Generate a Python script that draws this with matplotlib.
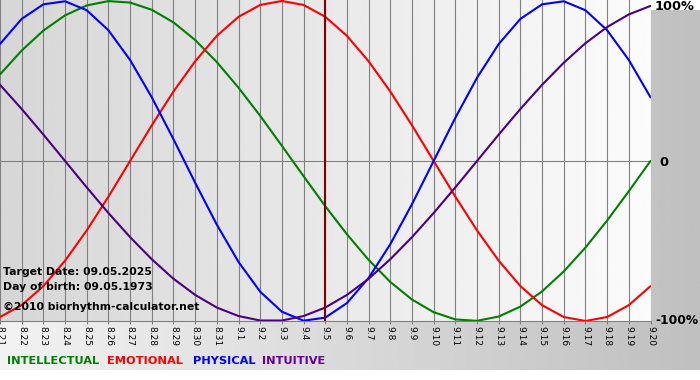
import numpy as np
import matplotlib
matplotlib.use("Agg")
import matplotlib.pyplot as plt

# ---- data ----
dates = ["8.21", "8.22", "8.23", "8.24", "8.25", "8.26", "8.27", "8.28", "8.29", "8.30", "8.31",
         "9.1", "9.2", "9.3", "9.4", "9.5", "9.6", "9.7", "9.8", "9.9", "9.10",
         "9.11", "9.12", "9.13", "9.14", "9.15", "9.16", "9.17", "9.18", "9.19", "9.20"]

physical = [0.731, 0.888, 0.979, 0.998, 0.942, 0.817, 0.631, 0.398, 0.136, -0.136,
            -0.398, -0.631, -0.817, -0.942, -0.998, -0.979, -0.888, -0.731, -0.520, -0.270,
            0.000, 0.270, 0.520, 0.731, 0.888, 0.979, 0.998, 0.942, 0.817, 0.631, 0.398]

emotional = [-0.975, -0.901, -0.782, -0.623, -0.434, -0.223, 0.000, 0.223, 0.434, 0.623,
             0.782, 0.901, 0.975, 1.000, 0.975, 0.901, 0.782, 0.623, 0.434, 0.223,
             0.000, -0.223, -0.434, -0.623, -0.782, -0.901, -0.975, -1.000, -0.975, -0.901, -0.782]

intellectual = [0.541, 0.690, 0.815, 0.910, 0.972, 0.999, 0.990, 0.945, 0.866, 0.756,
                0.618, 0.458, 0.282, 0.095, -0.095, -0.282, -0.458, -0.618, -0.756, -0.866,
                -0.945, -0.990, -0.999, -0.972, -0.910, -0.815, -0.690, -0.541, -0.372, -0.189, 0.000]

intuitive = [0.476, 0.325, 0.165, 0.000, -0.165, -0.325, -0.476, -0.614, -0.736, -0.837,
             -0.916, -0.969, -0.997, -0.997, -0.969, -0.916, -0.837, -0.736, -0.614, -0.476,
             -0.325, -0.165, 0.000, 0.165, 0.325, 0.476, 0.614, 0.736, 0.837, 0.916, 0.969]

target_index = 15  # 9.5
y_labels = ["100%", "0", "-100%"]
legend_names = ["INTELLECTUAL", "EMOTIONAL", "PHYSICAL", "INTUITIVE"]
info_lines = ["Target Date: 09.05.2025", "Day of birth: 09.05.1973", "\u00a92010 biorhythm-calculator.net"]

# ---- styling ----
C_INT = "#008000"
C_EMO = "#ff0000"
C_PHY = "#0000ff"
C_ITU = "#4b0082"
C_LEG = ["#008000", "#ff0000", "#0000ff", "#660099"]

W, H = 700, 380
fig = plt.figure(figsize=(7, 3.8), dpi=100, facecolor="white")

def fx(px):
    return px / W

def fy(py):
    return 1 - py / H

# background panel gradient (light left -> gray right)
bg = fig.add_axes([0, 10 / H, 1, 360 / H])
bg.set_axis_off()
grad = np.linspace(0.95, 0.75, 256).reshape(1, -1)
bg.imshow(grad, cmap="gray", vmin=0, vmax=1, aspect="auto", extent=[0, 1, 0, 1])
bg.set_xlim(0, 1)
bg.set_ylim(0, 1)

# main plot area
ax = fig.add_axes([0, (H - 321) / H, 650.5 / W, 321 / H])
x = np.arange(len(dates))
ax.set_xlim(0, len(dates) - 1)
ax.set_ylim(-1.0, 1.006)
pg = np.linspace(0.84, 0.985, 256).reshape(1, -1)
ax.imshow(pg, cmap="gray", vmin=0, vmax=1, aspect="auto",
          extent=[0, 1, 0, 1], transform=ax.transAxes, zorder=0)

for xi in x:
    ax.axvline(xi, color="#808080", lw=0.8, zorder=1)
ax.axhline(0, color="#808080", lw=0.8, zorder=1)

lw = 1.5
ax.plot(x, intellectual, color=C_INT, lw=lw, zorder=3, solid_capstyle="round", solid_joinstyle="round")
ax.plot(x, emotional, color=C_EMO, lw=lw, zorder=3, solid_capstyle="round", solid_joinstyle="round")
ax.plot(x, physical, color=C_PHY, lw=lw, zorder=3, solid_capstyle="round", solid_joinstyle="round")
ax.plot(x, intuitive, color=C_ITU, lw=lw, zorder=3, solid_capstyle="round", solid_joinstyle="round")
ax.axvline(target_index, color="#800000", lw=1.5, zorder=4)

for s in ["top", "right", "left"]:
    ax.spines[s].set_visible(False)
ax.spines["bottom"].set_color("#808080")
ax.spines["bottom"].set_linewidth(0.8)
ax.set_yticks([])
ax.set_xticks(x)
ax.set_xticklabels(dates, rotation=270, fontsize=6.5, color="black")
ax.tick_params(axis="x", length=2.5, width=0.8, color="#808080", pad=1)

# right side labels
fig.text(fx(655), fy(7), y_labels[0], fontsize=9.3, fontweight="bold", va="center", ha="left")
fig.text(fx(659), fy(162), y_labels[1], fontsize=9.3, fontweight="bold", va="center", ha="left")
fig.text(fx(698), fy(321), y_labels[2], fontsize=8.8, fontweight="bold", va="center", ha="right")

# info text
for txt, py in zip(info_lines, [272, 287, 307]):
    fig.text(fx(3), fy(py), txt, fontsize=7.8, fontweight="bold", va="center", ha="left", color="black")

# legend
for name, col, px in zip(legend_names, C_LEG, [7, 107, 193, 262]):
    fig.text(fx(px), fy(361), name, fontsize=8.2, fontweight="bold", va="center", ha="left", color=col)

fig.savefig("out.png", dpi=100, facecolor="white")
